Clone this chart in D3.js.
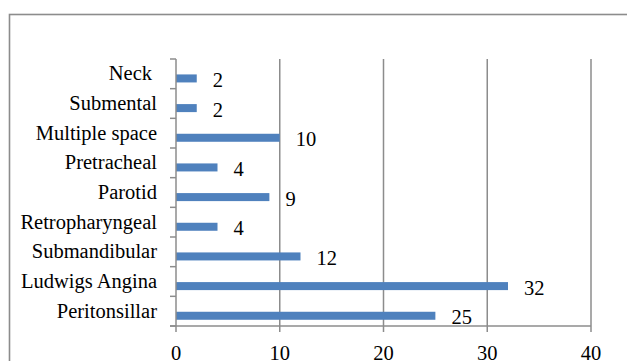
<!DOCTYPE html>
<html>
<head>
<meta charset="utf-8">
<script src="https://cdn.jsdelivr.net/npm/d3@7"></script>
<style>
  html, body { margin: 0; padding: 0; background: #fff; }
  svg { display: block; }
  svg text { font-family: "Liberation Serif", "Times New Roman", "DejaVu Serif", serif; font-size: 20.5px; fill: #000; }
</style>
</head>
<body>
<svg id="chart" width="627" height="361"></svg>
<script>
// Space-wise case counts, listed top to bottom
const categories = ["Neck", "Submental", "Multiple space", "Pretracheal", "Parotid",
  "Retropharyngeal", "Submandibular", "Ludwigs Angina", "Peritonsillar"];
const counts = [2, 2, 10, 4, 9, 4, 12, 32, 25];
const xTicks = [0, 10, 20, 30, 40];

const svg = d3.select("#chart");
const plotLeft = 176, plotRight = 591, plotTop = 59, plotBottom = 326;
const grey = "#8c8c8c";
const blue = "#4f81bd";

// outer chart frame (runs past the right and bottom edges)
svg.append("rect")
  .attr("x", 9.5).attr("y", 14.5)
  .attr("width", 700).attr("height", 400)
  .attr("fill", "none").attr("stroke", grey).attr("stroke-width", 1.6);

const x = d3.scaleLinear().domain([0, 40]).range([plotLeft, plotRight]);
const y = d3.scaleBand().domain(categories).range([plotTop, plotBottom]);

// vertical gridlines, extending down as tick marks
svg.append("g").selectAll("line").data(xTicks.slice(1)).join("line")
  .attr("x1", d => x(d)).attr("x2", d => x(d))
  .attr("y1", plotTop).attr("y2", plotBottom + 6)
  .attr("stroke", grey).attr("stroke-width", 1.5);

// bars
const bandW = y.bandwidth();
svg.append("g").selectAll("rect").data(categories).join("rect")
  .attr("x", x(0))
  .attr("y", d => y(d) + bandW * 0.52)
  .attr("width", (d, i) => x(counts[i]) - x(0))
  .attr("height", bandW * 0.27)
  .attr("fill", blue);

// category axis
const yAxis = svg.append("g");
yAxis.append("line")
  .attr("x1", plotLeft).attr("x2", plotLeft).attr("y1", plotTop).attr("y2", plotBottom + 6)
  .attr("stroke", grey).attr("stroke-width", 1.5);
const yTickPos = categories.map(c => y(c)).concat([plotBottom]);
yAxis.selectAll("line.tick").data(yTickPos).join("line")
  .attr("class", "tick")
  .attr("x1", plotLeft - 6).attr("x2", plotLeft)
  .attr("y1", d => d).attr("y2", d => d)
  .attr("stroke", grey).attr("stroke-width", 1.5);
yAxis.selectAll("text").data(categories).join("text")
  .attr("x", d => d === "Neck" ? 152 : 157)
  .attr("y", d => y(d) + bandW / 2 + 6.5)
  .attr("text-anchor", "end")
  .text(d => d);

// value axis
const xAxis = svg.append("g");
xAxis.append("line")
  .attr("x1", plotLeft - 6).attr("x2", plotRight).attr("y1", plotBottom).attr("y2", plotBottom)
  .attr("stroke", grey).attr("stroke-width", 1.5);
xAxis.selectAll("text").data(xTicks).join("text")
  .attr("x", d => x(d)).attr("y", 360)
  .attr("text-anchor", "middle")
  .text(d => d);

// value labels
svg.append("g").selectAll("text").data(categories).join("text")
  .attr("x", (d, i) => x(counts[i]) + 16)
  .attr("y", d => y(d) + bandW * 0.655 + 8.5)
  .text((d, i) => counts[i]);
</script>
</body>
</html>
